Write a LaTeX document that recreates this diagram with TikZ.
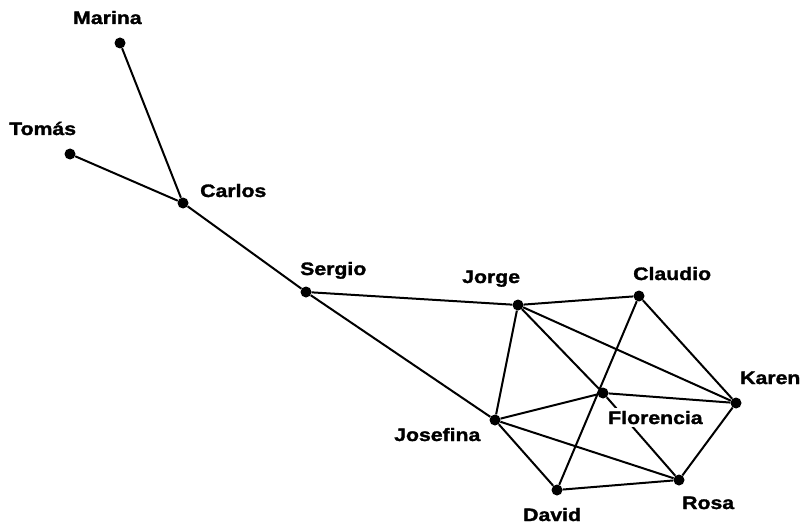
\documentclass[tikz,border=0pt]{standalone}
\usepackage{fontspec}
\setmainfont{Liberation Sans}[FakeStretch=1.18,BoldFeatures={FakeBold=1.6}]
\begin{document}
\begin{tikzpicture}[x=1pt,y=-1pt,
  person/.style={circle,fill=black,inner sep=0pt,minimum size=11pt},
  who/.style={font=\fontsize{18}{18}\selectfont\bfseries,inner sep=0pt,anchor=base west},
  tie/.style={line width=2pt}]
\useasboundingbox (0,0) rectangle (803,524);
% people
\node[person] (marina)   at (120,43)  {};
\node[person] (tomas)    at (70,154)  {};
\node[person] (carlos)   at (183,203) {};
\node[person] (sergio)   at (306,292) {};
\node[person] (jorge)    at (518,305) {};
\node[person] (claudio)  at (639,296) {};
\node[person] (karen)    at (736,403) {};
\node[person] (florencia) at (603,393) {};
\node[person] (josefina) at (495,420) {};
\node[person] (david)    at (557,490) {};
\node[person] (rosa)     at (679,480) {};
% ties
\draw[tie] (marina) -- (carlos);
\draw[tie] (tomas) -- (carlos);
\draw[tie] (carlos) -- (sergio);
\draw[tie] (sergio) -- (jorge);
\draw[tie] (sergio) -- (josefina);
\draw[tie] (jorge) -- (claudio);
\draw[tie] (jorge) -- (josefina);
\draw[tie] (jorge) -- (florencia);
\draw[tie] (jorge) -- (karen);
\draw[tie] (claudio) -- (karen);
\draw[tie] (claudio) -- (david);
\draw[tie] (florencia) -- (karen);
\draw[tie] (florencia) -- (rosa);
\draw[tie] (josefina) -- (florencia);
\draw[tie] (josefina) -- (david);
\draw[tie] (josefina) -- (rosa);
\draw[tie] (david) -- (rosa);
\draw[tie] (rosa) -- (karen);
% names
\node[who] (lmarina)   at (73,24)   {Marina};
\node[who] (ltomas)    at (9,135)   {Tomás};
\node[who] (lcarlos)   at (200,197) {Carlos};
\node[who] (lsergio)   at (300,275) {Sergio};
\node[who] (ljorge)    at (462,283) {Jorge};
\node[who] (lclaudio)  at (633,280) {Claudio};
\node[who] (lkaren)    at (740,384) {Karen};
\node[who,fill=white,inner xsep=2pt,inner ysep=3pt] (lflorencia) at (606,424) {Florencia};
\node[who] (ljosefina) at (394,441) {Josefina};
\node[who] (ldavid)    at (523,521) {David};
\node[who] (lrosa)     at (682,509) {Rosa};
\end{tikzpicture}
\end{document}
